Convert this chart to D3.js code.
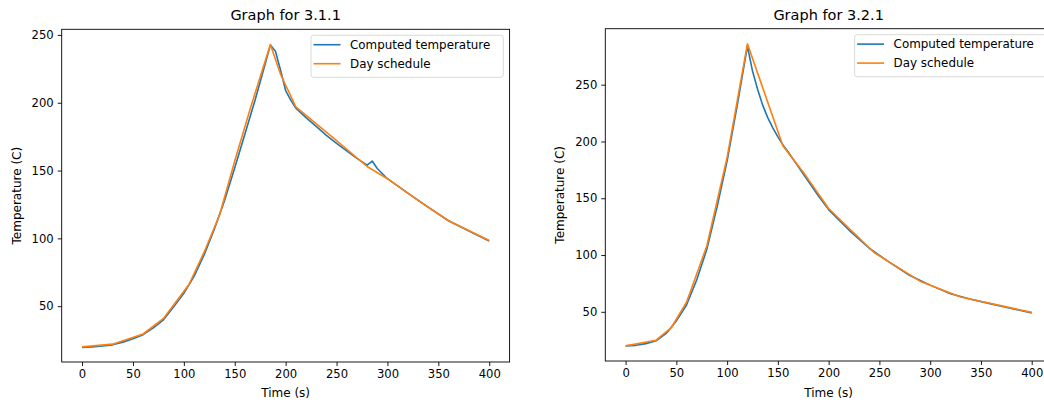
<!DOCTYPE html>
<html>
<head>
<meta charset="utf-8">
<script src="https://cdn.jsdelivr.net/npm/d3@7"></script>
<style>
  body { margin: 0; background: #fff; }
  text { font-family: "DejaVu Sans", sans-serif; fill: #000; }
</style>
</head>
<body>
<div id="canvas"></div>
<script>
// values
const xTicks = [0, 50, 100, 150, 200, 250, 300, 350, 400];
const yTicksA = [50, 100, 150, 200, 250];
const yTicksB = [50, 100, 150, 200, 250];

// graph 3.1.1
const computedTimeA = [0, 10, 20, 30, 40, 50, 60, 70, 80, 90, 100, 110, 120, 130, 140, 150, 160, 170, 180, 185, 190, 195, 200, 205, 210, 220, 230, 240, 250, 260, 270, 280, 285, 290, 300, 320, 340, 360, 380, 400];
const computedTempA = [19.5, 20, 20.7, 21.5, 23.5, 26, 29, 34, 40, 49.5, 59.5, 72, 88, 107, 128, 152, 177, 202, 229, 242.5, 238, 224, 209, 202, 196, 189, 182.5, 176, 170, 164.5, 159, 154, 157, 151.5, 144, 133.3, 123, 113, 105.5, 98];
const scheduleTimeA = [0, 30, 60, 80, 105, 120, 135, 150, 165, 185, 195, 210, 250, 280, 300, 330, 360, 400];
const scheduleTempA = [20, 22, 29.5, 41, 66, 90, 117, 157, 195, 243, 221, 197, 172, 153, 144, 128, 113, 98.5];

// graph 3.2.1
const computedTimeB = [0, 10, 20, 30, 40, 50, 60, 70, 80, 90, 100, 110, 115, 120, 125, 130, 135, 140, 145, 150, 155, 160, 170, 180, 190, 200, 220, 240, 260, 280, 300, 320, 340, 360, 380, 400];
const computedTempB = [20, 20.5, 22, 24.5, 31, 42, 56, 78, 105, 142, 183, 232, 258, 284, 262, 246, 232, 221, 212, 204, 197, 191, 178, 165, 152, 140, 122, 106, 93.5, 82, 73.5, 66, 61, 57, 53, 49];
const scheduleTimeB = [0, 30, 45, 60, 80, 100, 120, 155, 175, 200, 245, 290, 330, 400];
const scheduleTempB = [20, 25, 36, 58.5, 108, 186, 286, 196, 173, 141, 102, 77, 63, 49.5];

const panels = [
  { title: 'Graph for 3.1.1', left: 61.7, right: 509.6, top: 29.3, bottom: 362,
    yDomain: [8.85, 254.15], yTicks: yTicksA,
    series: [[computedTimeA, computedTempA], [scheduleTimeA, scheduleTempA]] },
  { title: 'Graph for 3.2.1', left: 605.3, right: 1052, top: 28.7, bottom: 361,
    yDomain: [6.7, 299.3], yTicks: yTicksB,
    series: [[computedTimeB, computedTempB], [scheduleTimeB, scheduleTempB]] }
];
const colors = ['#1f77b4', '#ff7f0e'];
const names = ['Computed temperature', 'Day schedule'];

const svg = d3.select('#canvas').append('svg').attr('width', 1044).attr('height', 403);

panels.forEach(p => {
  const x = d3.scaleLinear().domain([-20, 420]).range([p.left, p.right]);
  const y = d3.scaleLinear().domain(p.yDomain).range([p.bottom, p.top]);
  const g = svg.append('g');

  const line = d3.line().x(d => x(d[0])).y(d => y(d[1]));
  p.series.forEach((s, i) => {
    g.append('path')
      .datum(d3.zip(s[0], s[1]))
      .attr('fill', 'none')
      .attr('stroke', colors[i])
      .attr('stroke-width', 1.6)
      .attr('stroke-linejoin', 'round')
      .attr('d', line);
  });

  const xAxis = g.append('g').attr('transform', `translate(0,${p.bottom})`)
    .call(d3.axisBottom(x).tickValues(xTicks).tickSize(4).tickPadding(4).tickSizeOuter(0));
  const yAxis = g.append('g').attr('transform', `translate(${p.left},0)`)
    .call(d3.axisLeft(y).tickValues(p.yTicks).tickSize(4).tickPadding(4).tickSizeOuter(0));
  [xAxis, yAxis].forEach(a => {
    a.select('.domain').remove();
    a.selectAll('line').attr('stroke', '#000').attr('stroke-width', 0.9);
    a.selectAll('text').attr('font-size', 11.6).attr('font-family', 'DejaVu Sans').attr('fill', '#222');
  });

  g.append('rect')
    .attr('x', p.left).attr('y', p.top)
    .attr('width', p.right - p.left).attr('height', p.bottom - p.top)
    .attr('fill', 'none').attr('stroke', '#000').attr('stroke-width', 0.9);

  g.append('text')
    .attr('x', (p.left + p.right) / 2).attr('y', 20)
    .attr('text-anchor', 'middle').attr('font-size', 14.5)
    .text(p.title);
  g.append('text')
    .attr('x', (p.left + p.right) / 2).attr('y', 397)
    .attr('text-anchor', 'middle').attr('font-size', 12)
    .text('Time (s)');
  g.append('text')
    .attr('transform', `translate(${p.left - 41},${(p.top + p.bottom) / 2}) rotate(-90)`)
    .attr('text-anchor', 'middle').attr('font-size', 12)
    .text('Temperature (C)');

  // legend
  const lx = p.left + 249.3, ly = p.top + 6;
  const lg = g.append('g');
  lg.append('rect')
    .attr('x', lx).attr('y', ly).attr('width', 192.3).attr('height', 42).attr('rx', 2.5)
    .attr('fill', '#fff').attr('fill-opacity', 0.8)
    .attr('stroke', '#d6d6d6').attr('stroke-width', 0.9);
  names.forEach((n, i) => {
    const yy = ly + 9.4 + i * 19;
    lg.append('line')
      .attr('x1', lx + 2.5).attr('x2', lx + 29.5).attr('y1', yy).attr('y2', yy)
      .attr('stroke', colors[i]).attr('stroke-width', 1.6);
    lg.append('text')
      .attr('x', lx + 39).attr('y', yy + 4.2)
      .attr('font-size', 11.9).text(n);
  });
});
</script>
</body>
</html>
